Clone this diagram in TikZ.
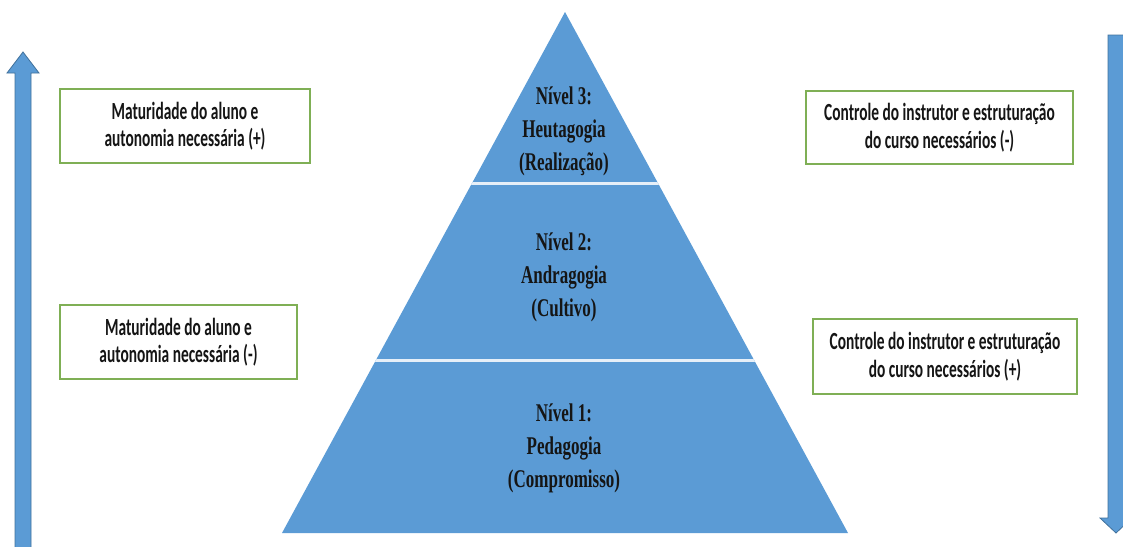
\documentclass[tikz,border=0pt]{standalone}
\usepackage{fontspec}
\setmainfont{Liberation Serif}
\newfontfamily\boxfont{Carlito}
\definecolor{pyrblue}{HTML}{5B9BD5}
\definecolor{arrowedge}{HTML}{41719C}
\definecolor{boxgreen}{HTML}{7FAF55}
\definecolor{sepline}{HTML}{E6EFF8}
\definecolor{inktext}{HTML}{151515}
\tikzset{
  % tall, narrow lettering: text is stretched vertically
  levellabel/.style={align=center, text=inktext, inner sep=0pt,
    transform shape, yscale=1.5,
    font=\fontsize{17}{22}\selectfont\bfseries},
  notebox/.style={draw=boxgreen, line width=1.6pt, fill=white, align=center,
    text=inktext, inner sep=0pt, transform shape, yscale=1.6,
    font=\boxfont\fontsize{15.4}{17.2}\selectfont\bfseries},
  bigarrow/.style={fill=pyrblue, draw=arrowedge, line width=0.8pt, line join=miter}
}
\begin{document}
\begin{tikzpicture}[x=1pt,y=-1pt]
\useasboundingbox (0,0) rectangle (1123,546);

% pyramid with three levels
\coordinate (apex) at (565,12);
\coordinate (bl) at (282,533);
\coordinate (br) at (848,533);
\fill[pyrblue] (apex) -- (br) -- (bl) -- cycle;
\begin{scope}
  \clip (apex) -- (br) -- (bl) -- cycle;
  \draw[sepline, line width=3pt] (250,183) -- (880,183);
  \draw[sepline, line width=3pt] (250,360) -- (880,360);
\end{scope}

\node[levellabel] (lvl3) at (564,131) {Nível 3:\\Heutagogia\\(Realização)};
\node[levellabel] (lvl2) at (564,277) {Nível 2:\\Andragogia\\(Cultivo)};
\node[levellabel] (lvl1) at (564,448) {Nível 1:\\Pedagogia\\(Compromisso)};

% side arrows
\draw[bigarrow] (15,548) -- (15,73) -- (7,73) -- (23,52) -- (39,73) -- (31,73) -- (31,548) -- cycle;
\draw[bigarrow] (1108,35) -- (1108,518) -- (1100,518) -- (1116,533) -- (1132,518) -- (1124,518) -- (1124,35) -- cycle;

% annotation boxes (heights given before the vertical stretch of 1.6)
\node[notebox, minimum width=250pt, minimum height=46.2pt] (ml) at (185,126)
  {Maturidade do aluno e\\autonomia necessária (+)};
\node[notebox, minimum width=237pt, minimum height=46.2pt] (mm) at (178.5,342)
  {Maturidade do aluno e\\autonomia necessária (-)};
\node[notebox, minimum width=267pt, minimum height=45.6pt] (cl) at (939.5,127.5)
  {Controle do instrutor e estruturação\\do curso necessários (-)};
\node[notebox, minimum width=264pt, minimum height=46.9pt] (cm) at (945,356.5)
  {Controle do instrutor e estruturação\\do curso necessários (+)};
\end{tikzpicture}
\end{document}
